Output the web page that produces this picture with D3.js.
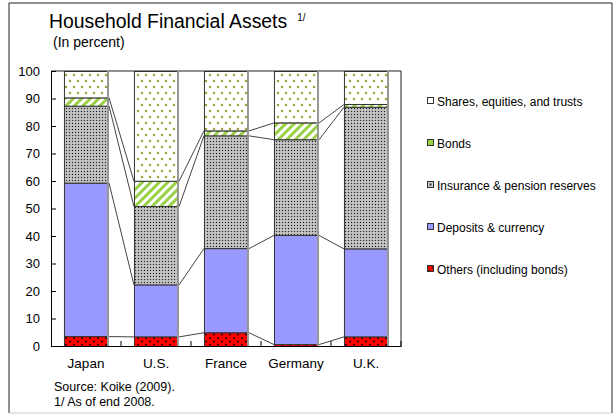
<!DOCTYPE html>
<html><head><meta charset="utf-8">
<script src="https://cdn.jsdelivr.net/npm/d3@7"></script>
<style>body{margin:0;background:#fff;} svg{display:block;font-family:"Liberation Sans",Arial,sans-serif;}</style>
</head><body>
<script>
const categories = ["Japan","U.S.","France","Germany","U.K."];
const others    = [3.6, 3.5, 5.0, 0.7, 3.5];
const deposits  = [55.8, 18.9, 30.6, 39.7, 32.0];
const insurance = [28.0, 28.5, 41.0, 34.8, 51.5];
const bonds     = [3.0, 9.2, 1.8, 6.1, 1.0];
const shares    = [9.6, 39.9, 21.6, 18.7, 12.0];
const yTicks = [0,10,20,30,40,50,60,70,80,90,100];
const seriesNames = ["Others (including bonds)","Deposits & currency","Insurance & pension reserves","Bonds","Shares, equities, and trusts"];
const keys = ["others","deposits","insurance","bonds","shares"];

const W = 615, H = 414;
const svg = d3.select("body").append("svg").attr("width",W).attr("height",H);
const defs = svg.append("defs");

// patterns
const pShares = defs.append("pattern").attr("id","p-shares").attr("patternUnits","userSpaceOnUse").attr("width",8).attr("height",12);
pShares.append("rect").attr("width",8).attr("height",12).attr("fill","#fff");
pShares.append("circle").attr("cx",2).attr("cy",3).attr("r",1.2).attr("fill","#9c9c36");
pShares.append("circle").attr("cx",6).attr("cy",9).attr("r",1.2).attr("fill","#9c9c36");

const pBonds = defs.append("pattern").attr("id","p-bonds").attr("patternUnits","userSpaceOnUse").attr("width",6).attr("height",6).attr("patternTransform","rotate(45)");
pBonds.append("rect").attr("width",6).attr("height",6).attr("fill","#fff");
pBonds.append("rect").attr("width",3).attr("height",6).attr("fill","#99d045");

const pIns = defs.append("pattern").attr("id","p-ins").attr("patternUnits","userSpaceOnUse").attr("width",3).attr("height",3);
pIns.append("rect").attr("width",3).attr("height",3).attr("fill","#b4b4b4");
pIns.append("rect").attr("x",0).attr("y",0).attr("width",1).attr("height",1).attr("fill","#222");
pIns.append("rect").attr("x",1.5).attr("y",1.5).attr("width",1).attr("height",1).attr("fill","#f4f4f4");

const pOth = defs.append("pattern").attr("id","p-oth").attr("patternUnits","userSpaceOnUse").attr("width",8).attr("height",7);
pOth.append("rect").attr("width",8).attr("height",7).attr("fill","#ff0000");
pOth.append("circle").attr("cx",2).attr("cy",2).attr("r",0.9).attr("fill","#000");
pOth.append("circle").attr("cx",6).attr("cy",5.5).attr("r",0.9).attr("fill","#000");

const fills = {others:"url(#p-oth)",deposits:"#9999ff",insurance:"url(#p-ins)",bonds:"url(#p-bonds)",shares:"url(#p-shares)"};

// outer frame
svg.append("line").attr("x1",9).attr("y1",3).attr("x2",9).attr("y2",413).attr("stroke","#222");
svg.append("line").attr("x1",9).attr("y1",3).attr("x2",612).attr("y2",3).attr("stroke","#222");
svg.append("line").attr("x1",612).attr("y1",3).attr("x2",612).attr("y2",413).attr("stroke","#222");
svg.append("line").attr("x1",9).attr("y1",413).attr("x2",612).attr("y2",413).attr("stroke","#ccc");

// titles
const t = svg.append("text").attr("x",49).attr("y",28).attr("font-size",19.4).attr("fill","#000").text("Household Financial Assets");
const tw = t.node().getComputedTextLength();
svg.append("text").attr("x",49+tw+10).attr("y",21).attr("font-size",10).text("1/");
svg.append("text").attr("x",53).attr("y",47).attr("font-size",14).text("(In percent)");

const m = {l:51, r:401, t:71, b:346};
const x = d3.scaleBand().domain(categories).range([m.l,m.r]).paddingInner(0.37).paddingOuter(0.185);
const y = d3.scaleLinear().domain([0,100]).range([m.b,m.t]);

const data = categories.map((c,i)=>({cat:c, others:others[i], deposits:deposits[i], insurance:insurance[i], bonds:bonds[i], shares:shares[i]}));
const stack = d3.stack().keys(keys)(data);

// frame of plot
svg.append("line").attr("x1",m.l).attr("x2",m.r).attr("y1",m.t).attr("y2",m.t).attr("stroke","#222");
svg.append("line").attr("x1",m.r).attr("x2",m.r).attr("y1",m.t).attr("y2",m.b).attr("stroke","#222");

// bars
const bw = x.bandwidth();
stack.forEach(s=>{
  svg.append("g").selectAll("rect").data(s).join("rect")
    .attr("x",d=>x(d.data.cat)+0.5)
    .attr("y",d=>y(d[1])+0.5)
    .attr("width",bw-1)
    .attr("height",d=>Math.max(0,y(d[0])-y(d[1])))
    .attr("fill",fills[s.key])
    .attr("stroke","#333").attr("stroke-width",1);
});
// bar shadow on right side
svg.append("g").selectAll("rect").data(data).join("rect")
  .attr("x",d=>x(d.cat)+bw-1).attr("y",y(100)).attr("width",2).attr("height",y(0)-y(100))
  .attr("fill","#9a9a9a");

// series lines
const lineG = svg.append("g").attr("stroke","#444").attr("stroke-width",1);
stack.slice(0,4).forEach(s=>{
  for(let i=0;i<s.length-1;i++){
    lineG.append("line")
      .attr("x1",x(s[i].data.cat)+bw+1).attr("y1",y(s[i][1])+0.5)
      .attr("x2",x(s[i+1].data.cat)).attr("y2",y(s[i+1][1])+0.5);
  }
});

// axes
const yAxis = d3.axisLeft(y).tickValues(yTicks).tickSizeInner(-5).tickSizeOuter(0).tickPadding(11);
const gy = svg.append("g").attr("transform",`translate(${m.l},0)`).call(yAxis);
gy.select(".domain").attr("stroke","#000");
gy.selectAll(".tick line").attr("stroke","#000");
gy.selectAll("text").attr("font-size",13).attr("font-family","Liberation Sans, Arial, sans-serif").attr("fill","#000");

const xAxis = d3.axisBottom(x).tickSize(0).tickPadding(12);
const gx = svg.append("g").attr("transform",`translate(0,${m.b})`).call(xAxis);
gx.select(".domain").attr("stroke","#000");
gx.selectAll("text").attr("font-size",13.5).attr("font-family","Liberation Sans, Arial, sans-serif").attr("fill","#000");
// category separator ticks pointing up
const step = x.step();
gx.selectAll(".sep").data(d3.range(1,categories.length+1)).join("line")
  .attr("x1",d=>m.l+d*step).attr("x2",d=>m.l+d*step).attr("y1",0).attr("y2",-5).attr("stroke","#000");

// legend
const legY = [269,227,185,143,101];
const lg = svg.append("g");
keys.forEach((k,i)=>{
  const g = lg.append("g").attr("transform",`translate(427,${legY[i]})`);
  g.append("rect").attr("x",0.5).attr("y",-3.5).attr("width",6).attr("height",6).attr("fill",k==="insurance"?"#ccc":(k==="shares"?"#fff":(k==="bonds"?"#99d045":fills[k]))).attr("stroke","#333");
  if(k==="insurance") g.append("rect").attr("x",2.5).attr("y",-1.5).attr("width",2).attr("height",2).attr("fill","#333");
  g.append("text").attr("x",10).attr("y",4.5).attr("font-size",12).text(seriesNames[i]);
});

// notes
svg.append("text").attr("x",54).attr("y",391).attr("font-size",12.5).text("Source: Koike (2009).");
svg.append("text").attr("x",54).attr("y",406).attr("font-size",12.5).text("1/ As of end 2008.");
</script>
</body></html>
